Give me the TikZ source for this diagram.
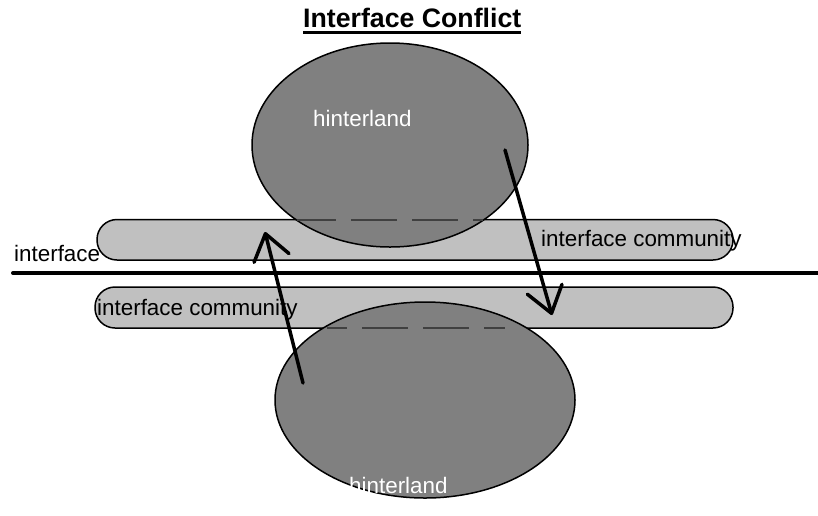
\documentclass[tikz,border=0pt]{standalone}
\usepackage{fontspec}
\setmainfont{Liberation Sans}
\usetikzlibrary{arrows.meta,shapes.geometric}

\definecolor{hillgray}{HTML}{808080}
\definecolor{bandgray}{HTML}{C0C0C0}
\definecolor{hiddenline}{HTML}{404040}

\begin{document}
\begin{tikzpicture}[x=1pt,y=-1pt,
  hill/.style={ellipse, draw=black, line width=1.5pt, fill=hillgray, inner sep=0pt},
  band/.style={rectangle, rounded corners=20pt, draw=black, line width=1.5pt,
               fill=bandgray, inner sep=0pt},
  lbl/.style={font=\fontsize{22.4}{27}\selectfont, inner sep=0pt, anchor=base west},
  hidden/.style={draw=hiddenline, line width=2pt, dash pattern=on 46pt off 15pt},
  flow/.style={line width=3.5pt, line cap=round, line join=round,
               -{Straight Barb[length=25pt,width=36pt,line cap=round,line join=round]}},
]
\useasboundingbox (0,0) rectangle (818,515);

% interface communities on both sides
\node[band, minimum width=636pt, minimum height=40.5pt] (bandN) at (415,239.75) {};
\node[band, minimum width=638pt, minimum height=41pt] (bandS) at (414,307.5) {};

% hinterlands
\node[hill, minimum width=276pt, minimum height=204pt] (hillN) at (390,145) {};
\node[hill, minimum width=300pt, minimum height=196pt] (hillS) at (425,400) {};

% covered edges of the bands
\coordinate (hidNa) at (297,219.5);
\coordinate (hidNb) at (483,219.5);
\coordinate (hidSa) at (327,328);
\coordinate (hidSb) at (505,328);
\draw[hidden, dash phase=7pt] (hidNa) -- (hidNb);
\draw[hidden, dash phase=26pt] (hidSa) -- (hidSb);

% the interface itself
\coordinate (shoreW) at (13,273);
\coordinate (shoreE) at (818,273);
\draw[line width=4pt, line cap=round] (shoreW) -- (shoreE);

% labels
\node[lbl, font=\bfseries\fontsize{26.7}{32}\selectfont] (title) at (303,27) {Interface Conflict};
\draw[line width=2.5pt] ([yshift=-5.5pt]title.base west) -- ([yshift=-5.5pt]title.base east);
\node[lbl, text=white] (hinN) at (313,126) {hinterland};
\node[lbl, text=white] (hinS) at (349,493) {hinterland};
\node[lbl] (commN) at (541,246) {interface community};
\node[lbl] (commS) at (97,315) {interface community};
\node[lbl] (iface) at (14,261) {interface};

% conflicting flows
\coordinate (riseTail) at (303,383);
\coordinate (riseHead) at (265,232);
\coordinate (fallTail) at (505,150);
\coordinate (fallHead) at (552,315);
\draw[flow] (riseTail) -- (riseHead);
\draw[flow] (fallTail) -- (fallHead);
\end{tikzpicture}
\end{document}
